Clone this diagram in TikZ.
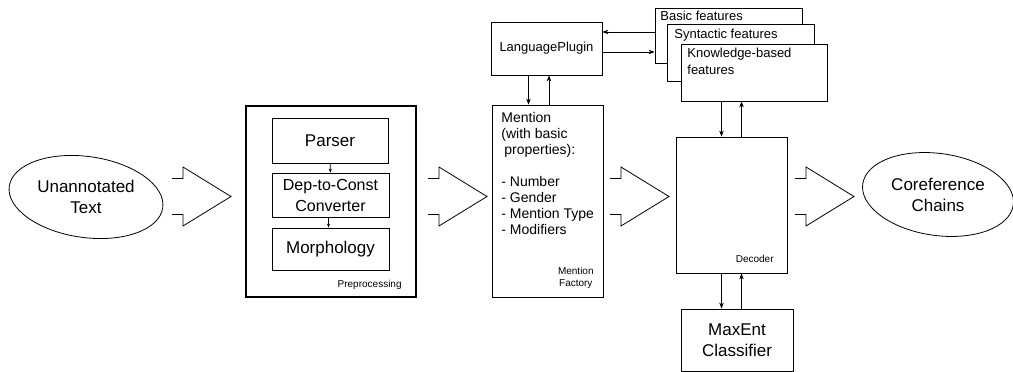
\documentclass[tikz,border=0pt]{standalone}
\usepackage{fontspec}
\setmainfont{Liberation Sans}
\usetikzlibrary{arrows.meta,shapes.geometric}
\tikzset{
  box/.style={draw,shape=rectangle,fill=white,inner sep=0pt},
  bigtext/.style={font=\fontsize{17}{21}\selectfont,align=center},
  midtext/.style={font=\fontsize{13}{17}\selectfont,align=left,inner sep=0pt},
  smalltext/.style={font=\fontsize{10}{12}\selectfont,align=center,inner sep=0pt},
  bigarrow/.pic={\draw (0,-18)--(11,-18)--(11,-29.5)--(59,0)--(11,29.5)--(11,18)--(0,18);}
}
\begin{document}
\begin{tikzpicture}[x=1pt,y=-1pt,line width=0.8pt,>={Stealth[length=6pt,width=4.5pt]}]
\useasboundingbox (0,0) rectangle (1013,372);
\node [bigtext,name=unann] at (86,197){Unannotated\\Text};
\draw [rotate around={-8:(unann.center)}] (unann.center) ellipse [x radius=77.5pt,y radius=40.5pt];
\node [bigtext,name=coref] at (938,194.5){Coreference\\Chains};
\draw [rotate around={-8:(coref.center)}] (coref.center) ellipse [x radius=76pt,y radius=41pt];
\foreach \x in {172,428,610,795}
  \pic at (\x,196.5) {bigarrow};
\node [box,name=prep,line width=1.4pt,minimum width=170,minimum height=191] at (331,201.5){};
\node [smalltext,name=preplabel,anchor=south east] at (402,290){Preprocessing};
\node [box,bigtext,name=parser,minimum width=116,minimum height=45] at (330,140.5){Parser};
\node [box,bigtext,name=dep,font=\fontsize{16}{21}\selectfont,minimum width=117,minimum height=44] at (330.5,195){Dep-to-Const\\Converter};
\node [box,bigtext,name=morph,minimum width=117,minimum height=42] at (330.5,249){Morphology};
\draw[-{Stealth[length=4pt,width=3pt]}] (parser) -- (dep);
\draw[-{Stealth[length=4pt,width=3pt]}] ([xshift=-2pt]dep.south) -- ([xshift=-2pt]dep.south |- morph.north);
\node [box,name=lp,minimum width=111,minimum height=53] at (546.5,48.5){};
\node [midtext,name=lptext] at (546.5,48){LanguagePlugin};
\node [box,name=men,minimum width=111,minimum height=192] at (547.5,201){};
\node [anchor=north west,inner sep=0pt,align=left,font=\fontsize{14}{16}\selectfont,name=mentext] at (501,112)
  {Mention\\(with basic\\\hspace*{3pt}properties):\\[16pt]- Number\\- Gender\\- Mention Type\\- Modifiers};
\node [smalltext,name=menlabel,anchor=south east] at (594,288.5){Mention\\Factory};
\draw[->] ([xshift=-18pt]lp.south) -- ([xshift=-18pt]lp.south |- men.north);
\draw[->] ([xshift=2.5pt]lp.south |- men.north) -- ([xshift=2.5pt]lp.south);
\node [box,name=basic,minimum width=147,minimum height=55] at (728.5,35.5){};
\node [midtext,name=basictext,anchor=north west] at (660,10.5){Basic features};
\node [box,name=synt,minimum width=147,minimum height=57] at (740.5,52.5){};
\node [midtext,name=synttext,anchor=north west] at (674,28.5){Syntactic features};
\node [box,name=know,minimum width=146,minimum height=57] at (754,72.5){};
\node [midtext,name=knowtext,anchor=north west] at (687,47.5){Knowledge-based\\features};
\draw[->] ([yshift=16.5pt]lp.east -| basic.west) -- ([yshift=16.5pt]lp.east);
\draw[->] ([yshift=-3.5pt]lp.east) -- ([yshift=-3.5pt]lp.east -| basic.west);
\node [box,name=dec,minimum width=111,minimum height=136] at (731.5,205){};
\node [smalltext,name=declabel,anchor=base east] at (774,262){Decoder};
\draw[->] ([xshift=-10pt]dec.north |- know.south) -- ([xshift=-10pt]dec.north);
\draw[->] ([xshift=10pt]dec.north) -- ([xshift=10pt]dec.north |- know.south);
\node [box,bigtext,name=maxent,minimum width=112,minimum height=62] at (737,340){MaxEnt\\Classifier};
\draw[->] ([xshift=-10pt]dec.south) -- ([xshift=-10pt]dec.south |- maxent.north);
\draw[->] ([xshift=10pt]dec.south |- maxent.north) -- ([xshift=10pt]dec.south);
\end{tikzpicture}
\end{document}
